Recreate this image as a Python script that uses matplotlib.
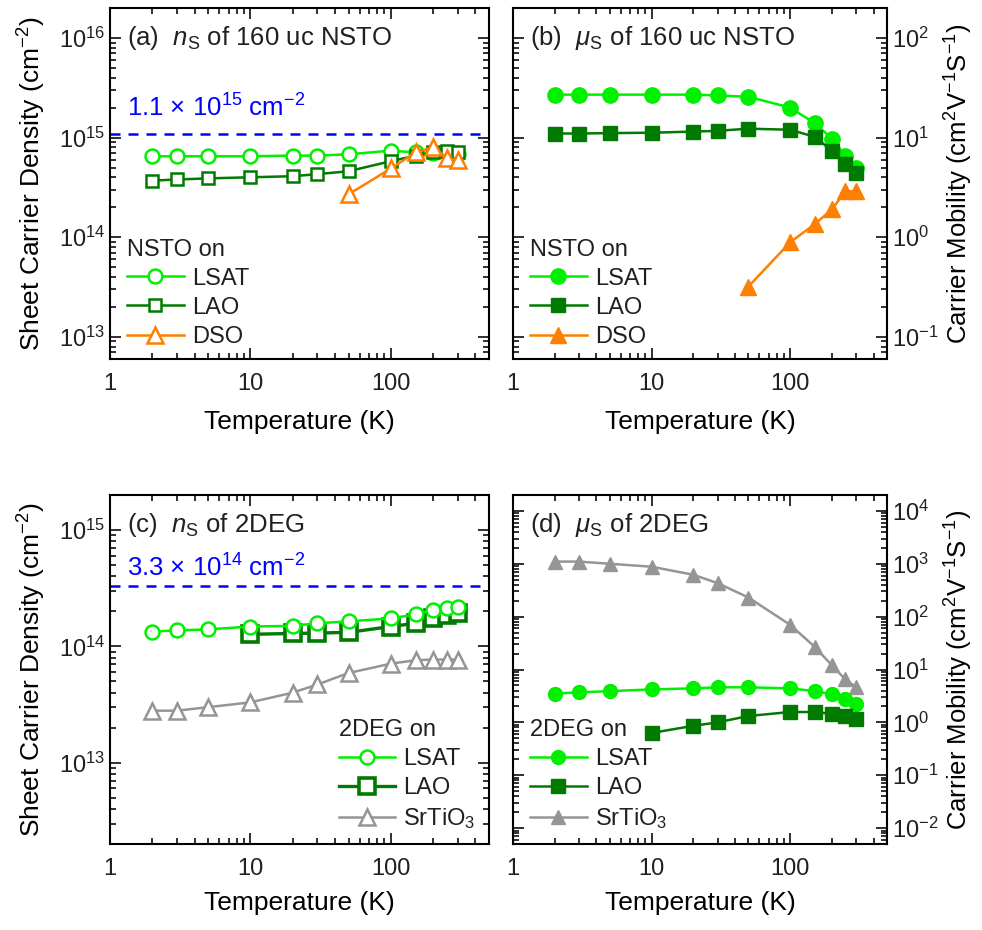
import numpy as np
import matplotlib
matplotlib.use("Agg")
import matplotlib.pyplot as plt

plt.rcParams["font.family"] = ["Liberation Sans", "DejaVu Sans"]
plt.rcParams["mathtext.fontset"] = "custom"
plt.rcParams["mathtext.rm"] = "Liberation Sans"
plt.rcParams["mathtext.it"] = "Liberation Sans:italic"
plt.rcParams["mathtext.bf"] = "Liberation Sans:bold"
plt.rcParams["axes.linewidth"] = 1.5
plt.rcParams["text.color"] = "#231f20"

# ------------------------------------
# data
# ------------------------------------
T_all = [2, 3, 5, 10, 20, 30, 50, 100, 150, 200, 250, 300]
T_hi = [50, 100, 150, 200, 250, 300]
T_10 = [10, 20, 30, 50, 100, 150, 200, 250, 300]

# (a) sheet carrier density of 160 uc NSTO
ns_nsto_lsat = [6.5e14, 6.5e14, 6.5e14, 6.5e14, 6.6e14, 6.6e14, 6.8e14, 7.4e14, 7.1e14, 7.0e14, 7.0e14, 6.8e14]
ns_nsto_lao = [3.7e14, 3.8e14, 3.9e14, 4.0e14, 4.1e14, 4.3e14, 4.6e14, 5.8e14, 6.6e14, 7.1e14, 7.3e14, 7.2e14]
ns_nsto_dso = [2.7e14, 4.9e14, 7.1e14, 8.0e14, 6.3e14, 5.9e14]

# (b) mobility of 160 uc NSTO
mu_nsto_lsat = [27, 27, 27, 27, 27, 26.5, 25.7, 20, 14, 9.8, 6.6, 4.9]
mu_nsto_lao = [11.0, 11.0, 11.1, 11.2, 11.5, 11.7, 12.3, 12.0, 10.2, 7.4, 5.4, 4.4]
mu_nsto_dso = [0.32, 0.89, 1.35, 1.9, 2.9, 2.9]

# (c) sheet carrier density of 2DEG
ns_2deg_lsat = [1.34e14, 1.37e14, 1.40e14, 1.48e14, 1.50e14, 1.58e14, 1.64e14, 1.74e14, 1.88e14, 2.05e14, 2.15e14, 2.2e14]
ns_2deg_lao = [1.27e14, 1.29e14, 1.30e14, 1.32e14, 1.48e14, 1.58e14, 1.75e14, 1.85e14, 1.95e14]
ns_2deg_sto = [2.8e13, 2.8e13, 3.0e13, 3.3e13, 4.0e13, 4.7e13, 5.9e13, 7.1e13, 7.6e13, 7.7e13, 7.7e13, 7.7e13]

# (d) mobility of 2DEG
mu_2deg_lsat = [3.5, 3.7, 3.9, 4.2, 4.4, 4.6, 4.6, 4.4, 3.9, 3.4, 2.75, 2.2]
mu_2deg_lao = [0.63, 0.86, 1.0, 1.32, 1.57, 1.57, 1.45, 1.3, 1.15]
mu_2deg_sto = [1100, 1100, 1000, 880, 620, 430, 230, 70, 27, 12, 6.5, 4.6]

ns_limit_nsto = 1.1e15
ns_limit_2deg = 3.3e14

LIME = "#00f000"
DKGREEN = "#007a00"
ORANGE = "#ff7f00"
GRAY = "#959595"
FS = 17
TFS = 18.5

# ------------------------------------
# figure and axes
# ------------------------------------
W, H = 982, 930
fig = plt.figure(figsize=(W / 100, H / 100), dpi=100)


def px_axes(x0, y0, x1, y1):
    return fig.add_axes([x0 / W, 1 - y1 / H, (x1 - x0) / W, (y1 - y0) / H])


ax_a = px_axes(110, 8, 489, 359)
ax_b = px_axes(513, 8, 887, 359)
ax_c = px_axes(110, 495, 489, 844)
ax_d = px_axes(513, 495, 887, 844)


def style(ax, right=False, xpad=11):
    ax.set_xscale("log")
    ax.set_yscale("log")
    ax.set_xlim(1, 500)
    ax.tick_params(which="both", direction="in", top=True, right=True, width=1.3,
                   labelsize=FS, colors="#231f20")
    ax.tick_params(which="major", length=8)
    ax.tick_params(which="minor", length=4)
    ax.tick_params(axis="x", pad=10)
    if right:
        ax.yaxis.tick_right()
        ax.tick_params(which="both", left=True, labelleft=False, labelright=True)
        ax.yaxis.set_label_position("right")
    ax.set_xticks([1, 10, 100])
    ax.set_xticklabels(["1", "10", "100"])
    ax.set_xlabel("Temperature (K)", fontsize=19, labelpad=xpad)


def leg(ax, title, handles=None, labels=None, **kw):
    if handles is None:
        handles, labels = ax.get_legend_handles_labels()
    return ax.legend(handles, labels, title=title, frameon=False, fontsize=FS,
                     title_fontsize=FS, handlelength=2.4, handletextpad=0.35,
                     labelspacing=0.3, borderaxespad=0, alignment="left", **kw)


open_kw = dict(markerfacecolor="white", markeredgewidth=1.8, linewidth=1.8)
fill_kw = dict(linewidth=1.8)

# (a)
style(ax_a)
ax_a.set_ylim(6e12, 2e16)
ax_a.axhline(ns_limit_nsto, color="#0000ff", ls=(0, (4, 3.2)), lw=1.8)
ax_a.plot(T_all, ns_nsto_lsat, "-o", color=LIME, ms=10, label="LSAT", **open_kw)
ax_a.plot(T_all, ns_nsto_lao, "-s", color=DKGREEN, ms=9, label="LAO", **open_kw)
ax_a.plot(T_hi, ns_nsto_dso, "-^", color=ORANGE, ms=11, label="DSO", **open_kw)
ax_a.text(0.045, 0.955, r"(a)  $\mathit{n}_\mathrm{S}$ of 160 uc NSTO", transform=ax_a.transAxes,
          fontsize=TFS, va="top", ha="left")
ax_a.text(0.045, 0.715, r"1.1 $\times$ 10$^{15}$ cm$^{-2}$", transform=ax_a.transAxes,
          fontsize=TFS, color="#0000ff", va="center", ha="left")
ax_a.set_ylabel(r"Sheet Carrier Density (cm$^{-2}$)", fontsize=19, labelpad=8)
leg(ax_a, "NSTO on", loc="lower left", bbox_to_anchor=(0.02, 0.005))

# (b)
style(ax_b, right=True)
ax_b.set_ylim(0.06, 200)
ax_b.plot(T_all, mu_nsto_lsat, "-o", color=LIME, ms=11, label="LSAT", **fill_kw)
ax_b.plot(T_all, mu_nsto_lao, "-s", color=DKGREEN, ms=10, label="LAO", **fill_kw)
ax_b.plot(T_hi, mu_nsto_dso, "-^", color=ORANGE, ms=12, label="DSO", **fill_kw)
ax_b.text(0.045, 0.955, r"(b)  $\mathit{\mu}_\mathrm{S}$ of 160 uc NSTO", transform=ax_b.transAxes,
          fontsize=TFS, va="top", ha="left")
ax_b.set_ylabel(r"Carrier Mobility (cm$^{2}$V$^{-1}$S$^{-1}$)", fontsize=18.5, labelpad=3)
leg(ax_b, "NSTO on", loc="lower left", bbox_to_anchor=(0.02, 0.005))

# (c)
style(ax_c, xpad=8)
ax_c.set_ylim(2e12, 2e15)
ax_c.axhline(ns_limit_2deg, color="#0000ff", ls=(0, (4, 3.2)), lw=1.8)
ax_c.plot(T_all, ns_2deg_lsat, "-o", color=LIME, ms=10, label="LSAT", zorder=4, **open_kw)
ax_c.plot(T_10, ns_2deg_lao, "-s", color=DKGREEN, ms=11, markerfacecolor="white",
          markeredgewidth=2.6, linewidth=2.4, label="LAO", zorder=3)
ax_c.plot(T_all, ns_2deg_sto, "-^", color=GRAY, ms=11, label=r"SrTiO$_3$", **open_kw)
ax_c.text(0.045, 0.955, r"(c)  $\mathit{n}_\mathrm{S}$ of 2DEG", transform=ax_c.transAxes,
          fontsize=TFS, va="top", ha="left")
ax_c.text(0.045, 0.79, r"3.3 $\times$ 10$^{14}$ cm$^{-2}$", transform=ax_c.transAxes,
          fontsize=TFS, color="#0000ff", va="center", ha="left")
ax_c.set_ylabel(r"Sheet Carrier Density (cm$^{-2}$)", fontsize=19, labelpad=8)
leg(ax_c, "2DEG on", loc="lower right", bbox_to_anchor=(0.99, 0.01))

# (d)
style(ax_d, right=True, xpad=8)
ax_d.set_ylim(5e-3, 2e4)
ax_d.plot(T_all, mu_2deg_sto, "-^", color=GRAY, ms=10, label=r"SrTiO$_3$", **fill_kw)
ax_d.plot(T_all, mu_2deg_lsat, "-o", color=LIME, ms=10, label="LSAT", **fill_kw)
ax_d.plot(T_10, mu_2deg_lao, "-s", color=DKGREEN, ms=9.5, label="LAO", **fill_kw)
ax_d.text(0.045, 0.955, r"(d)  $\mathit{\mu}_\mathrm{S}$ of 2DEG", transform=ax_d.transAxes,
          fontsize=TFS, va="top", ha="left")
ax_d.set_ylabel(r"Carrier Mobility (cm$^{2}$V$^{-1}$S$^{-1}$)", fontsize=18.5, labelpad=3)
h, l = ax_d.get_legend_handles_labels()
order = [1, 2, 0]
leg(ax_d, "2DEG on", [h[i] for i in order], [l[i] for i in order],
    loc="lower left", bbox_to_anchor=(0.02, 0.01))

fig.savefig("out.png", dpi=100)
